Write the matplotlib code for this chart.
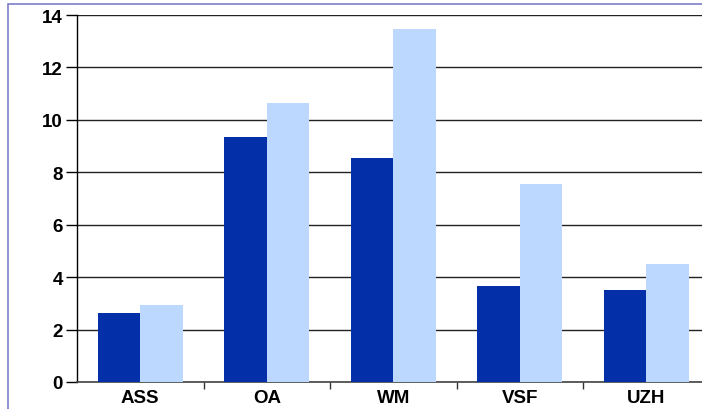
import matplotlib.pyplot as plt
import numpy as np
from matplotlib.patches import Rectangle

# data
categorias = ['ASS', 'OA', 'WM', 'VSF', 'UZH']
serie_escura = [2.63, 9.35, 8.55, 3.66, 3.51]
serie_clara = [2.94, 10.65, 13.47, 7.56, 4.50]
yticks = [0, 2, 4, 6, 8, 10, 12, 14]

plt.rcParams['font.family'] = ['Liberation Sans Narrow', 'Liberation Sans', 'DejaVu Sans']

fig = plt.figure(figsize=(7.02, 4.10), dpi=100)
W, H = 702, 410

# moldura azul (cortada à direita e em baixo)
fig.patches.append(Rectangle((8 / W, -0.1), 1.2, (H - 5) / H + 0.1, transform=fig.transFigure,
                             fill=False, edgecolor='#7b7fc8', linewidth=1.2))

# eixo vai para além da borda direita da imagem
x0, x1 = 77, 709.5
y0, y1 = 383, 16
ax = fig.add_axes([x0 / W, (H - y0) / H, (x1 - x0) / W, (y0 - y1) / H])

x = np.arange(len(categorias))
larg = 0.335
ax.bar(x - larg / 2, serie_escura, larg, color='#0330a8', zorder=3)
ax.bar(x + larg / 2, serie_clara, larg, color='#bdd8ff', zorder=3)

ax.set_xlim(-0.5, len(categorias) - 0.5)
ax.set_ylim(0, 14)
ax.set_yticks(yticks)
ax.set_yticklabels([str(v) for v in yticks], fontsize=13.5, fontweight='bold')
ax.set_xticks(x)
ax.set_xticklabels(categorias, fontsize=13.5, fontweight='bold')
ax.set_xticks(np.arange(len(categorias)) + 0.5, minor=True)
ax.tick_params(axis='x', which='major', length=0, pad=5)
ax.tick_params(axis='x', which='minor', length=5, width=1, color='#333333')
ax.tick_params(axis='y', length=8, width=1, pad=2)

ax.grid(axis='y', color='#222222', linewidth=1, zorder=0)
for lado in ['top', 'right']:
    ax.spines[lado].set_visible(False)
ax.spines['left'].set_linewidth(1)
ax.spines['bottom'].set_color('#444444')
ax.spines['bottom'].set_linewidth(1.2)
ax.set_axisbelow(True)

fig.savefig('out.png', dpi=100)
